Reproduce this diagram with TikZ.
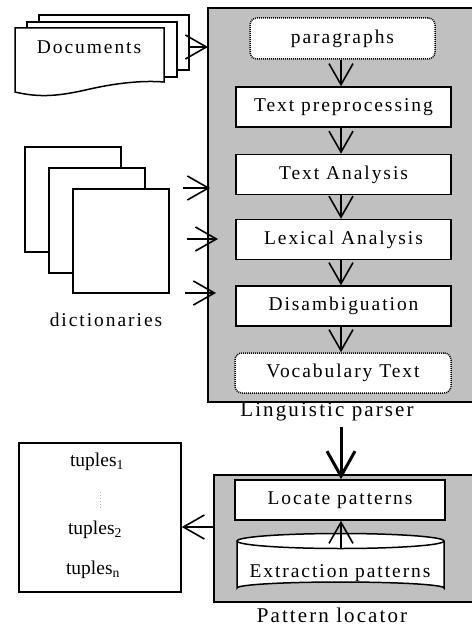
\documentclass[tikz,border=0pt]{standalone}
\usepackage{fontspec}
\setmainfont{Liberation Serif}
\newfontfamily\spacedfont[LetterSpace=10]{Liberation Serif}
\usetikzlibrary{arrows.meta}
\definecolor{panelgray}{RGB}{192,192,192}
\tikzset{every picture/.style={line width=1.5pt}}

\begin{document}
\begin{tikzpicture}[x=1pt,y=1pt,yscale=-1,xscale=1,
  lbl/.style={font=\spacedfont\fontsize{19.5}{23}\selectfont, inner sep=0pt},
  panellbl/.style={font=\spacedfont\fontsize{21}{25}\selectfont, inner sep=0pt},
  stepbox/.style={lbl, draw, fill=white, minimum width=215, minimum height=40},
  databox/.style={stepbox, rounded corners=7, dash pattern=on 1pt off 1pt},
  sheet/.style={draw, fill=white, inner sep=0pt},
  arr/.style={-{Straight Barb[length=21pt,width=24pt]}, line width=1.6pt}]
\useasboundingbox (0,0) rectangle (472,628);

%Panel: linguistic parser
\fill [panelgray] (208,8) rectangle (472,402);
\draw (472,8) -- (208,8) -- (208,402) -- (472,402);
%Panel: pattern locator
\fill [panelgray] (214,475) rectangle (472,602);
\draw (472,475) -- (214,475) -- (214,602) -- (472,602);

%Documents (stacked sheets)
\node [sheet, minimum width=150, minimum height=55] (docC) at (114,42.5) {};
\node [sheet, minimum width=150, minimum height=55] (docB) at (102,49.5) {};
\draw [fill=white] (15,92) -- (15,28) -- (164,28) -- (164,82)
  .. controls (140,80) and (112,84) .. (90,89)
  .. controls (60,96) and (40,98) .. (15,92) -- cycle;
% Text Node
\node [lbl] (docs) at (89,47) {Documents};

%Dictionaries (stacked sheets)
\node [sheet, minimum width=96, minimum height=105] (dicC) at (73,199.5) {};
\node [sheet, minimum width=96, minimum height=105] (dicB) at (97,220.5) {};
\node [sheet, minimum width=96, minimum height=104] (dicA) at (121,241) {};
% Text Node
\node [lbl] (dics) at (106,320) {dictionaries};

%Steps of the parser
\node [databox, minimum width=185, minimum height=41] (para) at (342.5,38.5) {paragraphs};
\node [stepbox] (prep) at (343.5,107) {Text preprocessing};
\node [stepbox] (tana) at (343.5,174.5) {Text Analysis};
\node [stepbox] (lexa) at (343.5,239.5) {Lexical Analysis};
\node [stepbox] (disa) at (343.5,306) {Disambiguation};
\node [databox, minimum width=216] (voca) at (343,373) {Vocabulary Text};
% Text Node
\node [panellbl] (lpar) at (327,412) {Linguistic parser};

%Pattern locator
\node [stepbox, minimum width=210] (loca) at (340,500) {Locate patterns};
\draw [fill=white] (237,541) -- (237,588)
  arc [start angle=180, end angle=360, x radius=103.5, y radius=6] -- (444,541);
\draw [fill=white] (340.5,541) ellipse [x radius=103.5, y radius=7.5];
\node [lbl] (expa) at (340,573) {Extraction patterns};
% Text Node
\node [panellbl] (ploc) at (332,615) {Pattern locator};

%Tuples
\node [draw, fill=white, minimum width=162, minimum height=149] (tupl) at (100,517.5) {};
\node [lbl, font=\fontsize{19.5}{23}\selectfont] (tup1) at (97,462) {tuples\textsubscript{1}};
\node [lbl, font=\fontsize{19.5}{23}\selectfont] (tup2) at (95,530) {tuples\textsubscript{2}};
\node [lbl, font=\fontsize{19.5}{23}\selectfont] (tupn) at (93,570) {tuples\textsubscript{n}};
\draw [gray!60, line width=0.4pt, dash pattern=on 0.6pt off 2.4pt] (tup1) ++(3,30) -- ++(0,18);

%Connectors
\coordinate (docin) at (208,47);
\coordinate (dic1s) at (183,188);
\coordinate (dic1e) at (210,188);
\coordinate (dic2s) at (187,239);
\coordinate (dic2e) at (218,239);
\coordinate (dic3s) at (185,293);
\coordinate (dic3e) at (216,293);
\coordinate (lpout) at (341,427);
\coordinate (plout) at (214,527);
\coordinate (cylin) at (341,548);

\draw [arr] (docC.east |- docin) -- (docin);
\draw [arr] (dic1s) -- (dic1e);
\draw [arr] (dic2s) -- (dic2e);
\draw [arr] (dic3s) -- (dic3e);
\draw [arr] (para.south -| 341,0) -- (prep.north -| 341,0);
\draw [arr] (prep.south -| 341,0) -- (tana.north -| 341,0);
\draw [arr] (tana.south -| 341,0) -- (lexa.north -| 341,0);
\draw [arr] (lexa.south -| 341,0) -- (disa.north -| 341,0);
\draw [arr] (disa.south -| 341,0) -- (voca.north -| 341,0);
\draw [-{Straight Barb[length=25pt,width=28pt]}, line width=3pt] (lpout) -- (loca.north -| lpout);
\draw [arr] (cylin) -- (loca.south -| cylin);
\draw [arr] (plout) -- (tupl.east |- plout);

\end{tikzpicture}
\end{document}
